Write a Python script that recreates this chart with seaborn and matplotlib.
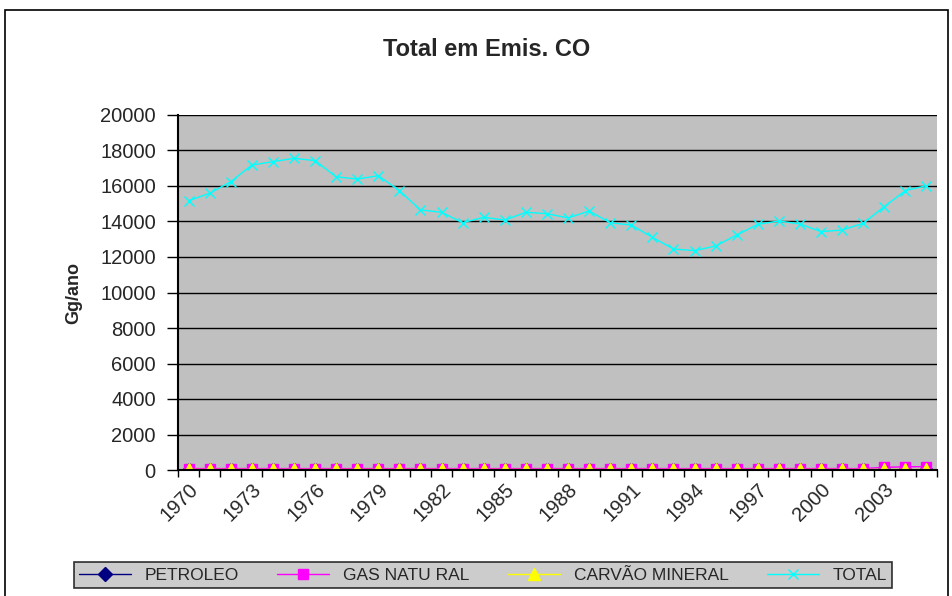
import pandas as pd
import matplotlib
matplotlib.use("Agg")
import matplotlib.pyplot as plt
from matplotlib.patches import Rectangle
from matplotlib.ticker import FixedLocator
import seaborn as sns

# values (Gg/ano)
years = list(range(1970, 2006))
petroleo = [20, 20, 20, 20, 20, 20, 20, 20, 20, 20,
            20, 20, 20, 20, 20, 20, 20, 20, 20, 20,
            20, 20, 20, 20, 20, 20, 20, 20, 20, 20,
            20, 20, 20, 20, 20, 20]
gas_natural = [80, 80, 80, 80, 80, 80, 80, 80, 80, 80,
               80, 80, 80, 80, 80, 80, 80, 80, 80, 80,
               80, 80, 80, 80, 80, 80, 80, 80, 80, 80,
               80, 80, 80, 150, 180, 190]
carvao = [50, 50, 50, 50, 50, 50, 50, 50, 50, 50,
          50, 50, 50, 50, 50, 50, 50, 50, 50, 50,
          50, 50, 50, 50, 50, 50, 50, 50, 50, 50,
          50, 50, 50, 50, 50, 50]
total = [15170, 15590, 16240, 17180, 17370, 17560, 17430, 16520, 16390, 16580,
         15740, 14650, 14520, 13930, 14240, 14080, 14520, 14440, 14200, 14590,
         13930, 13800, 13110, 12450, 12360, 12620, 13240, 13840, 14030, 13860,
         13430, 13520, 13900, 14840, 15740, 16020]
yticks = list(range(0, 20001, 2000))
xlabel_years = list(range(1970, 2004, 3))

series = [
    ("PETROLEO", petroleo, "#000080", "D", 7),
    ("GAS NATU RAL", gas_natural, "#FF00FF", "s", 7),
    ("CARVÃO MINERAL", carvao, "#FFFF00", "^", 8),
    ("TOTAL", total, "#00FFFF", "x", 7),
]

sns.set_theme(style="ticks")
plt.rcParams["font.family"] = ["Liberation Sans", "DejaVu Sans"]

fig = plt.figure(figsize=(9.53, 5.96), dpi=100)
ax = fig.add_axes([178 / 953, 1 - 470 / 596, (937 - 178) / 953, (470 - 115) / 596])
ax.set_facecolor("#C0C0C0")

for name, vals, color, mk, ms in series:
    sns.lineplot(x=years, y=vals, ax=ax, color=color, marker=mk, markersize=ms,
                 markeredgecolor=color, markeredgewidth=1.0, linewidth=1.0,
                 label=name, legend=False)

ax.set_xlim(1969.5, 2005.5)
ax.set_ylim(0, 20000)
ax.set_yticks(yticks)
ax.set_yticklabels([str(v) for v in yticks], fontsize=14.5)
ax.grid(axis="y", color="black", linewidth=1.0)
ax.set_axisbelow(True)

ax.xaxis.set_major_locator(FixedLocator(xlabel_years))
ax.set_xticklabels([str(y) for y in xlabel_years], rotation=45, ha="right",
                   rotation_mode="anchor", fontsize=14.5)
ax.xaxis.set_minor_locator(FixedLocator([y + 0.5 for y in range(1969, 2006)]))
ax.tick_params(axis="x", which="major", length=0, pad=7)
ax.tick_params(axis="x", which="minor", length=5, width=1, color="black", direction="out")
ax.tick_params(axis="y", length=8, width=1, color="black", direction="out", pad=8)

for side in ["top", "right"]:
    ax.spines[side].set_visible(False)
for side in ["left", "bottom"]:
    ax.spines[side].set_color("black")
    ax.spines[side].set_linewidth(1.5)

ax.set_xlabel("")
ax.set_ylabel("Gg/ano", fontsize=13, fontweight="bold")
ax.yaxis.set_label_coords((82 - 178) / 759, 0.5)
fig.text(487 / 953, 1 - 50 / 596, "Total em Emis. CO", ha="center", va="center",
         fontsize=17, fontweight="bold")

handles, labels = ax.get_legend_handles_labels()
leg = fig.legend(handles, labels, loc="center", bbox_to_anchor=(483 / 953, 1 - 575 / 596),
                 ncol=4, frameon=True, fancybox=False, facecolor="#C0C0C0",
                 edgecolor="black", fontsize=12.5, columnspacing=2.2, handlelength=3,
                 borderpad=0.3)
leg.get_frame().set_linewidth(1.2)

# outer chart frame
fig.patches.append(Rectangle((5 / 953, -0.1), (948 - 5) / 953, 1.1 - 10 / 596,
                             transform=fig.transFigure, fill=False,
                             edgecolor="black", linewidth=1.2))

fig.savefig("out.png", dpi=100)
